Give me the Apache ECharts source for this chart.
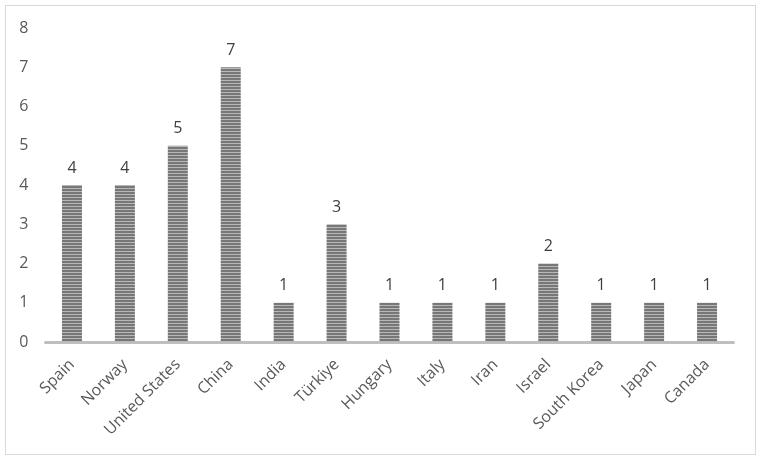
<!DOCTYPE html>
<html><head><meta charset="utf-8">
<script src="https://cdn.jsdelivr.net/npm/echarts@6/dist/echarts.min.js"></script>
<style>html,body{margin:0;padding:0;background:#fff}#c{width:764px;height:463px}
#frame{position:absolute;left:5px;top:5px;width:751px;height:450px;border:1.5px solid #d9d9d9;box-sizing:border-box;pointer-events:none}</style>
</head><body><div id="c"></div><div id="frame"></div>
<script>
const categories = ['Spain','Norway','United States','China','India','Türkiye','Hungary','Italy','Iran','Israel','South Korea','Japan','Canada'];
const values = [4,4,5,7,1,3,1,1,1,2,1,1,1];
const yTicks = {min:0, max:8, interval:1};

const pc = document.createElement('canvas');
pc.width = 4; pc.height = 3;
const g = pc.getContext('2d');
g.fillStyle = '#777777'; g.fillRect(0,0,4,2);
g.fillStyle = '#b8b8b8'; g.fillRect(0,2,4,1);

const chart = echarts.init(document.getElementById('c'));
chart.setOption({
  animation:false,
  grid:{left:45.5,right:30.5,top:28,bottom:121,containLabel:false},
  xAxis:{type:'category',data:categories,
    axisLine:{lineStyle:{color:'#bfbfbf',width:3}},
    axisTick:{show:false},
    axisLabel:{rotate:45,color:'#595959',fontSize:16,fontFamily:'Open Sans',interval:0,margin:20,padding:[0,0,0,0]}},
  yAxis:{type:'value',min:yTicks.min,max:yTicks.max,interval:yTicks.interval,
    axisLine:{show:false},axisTick:{show:false},splitLine:{show:false},
    axisLabel:{color:'#595959',fontSize:16,fontFamily:'Open Sans',margin:17}},
  series:[{type:'bar',data:values,barWidth:20,
    itemStyle:{color:{image:pc,repeat:'repeat'}},
    label:{show:true,position:'top',color:'#404040',fontSize:16,fontFamily:'Open Sans',distance:9}}]
});
</script></body></html>
